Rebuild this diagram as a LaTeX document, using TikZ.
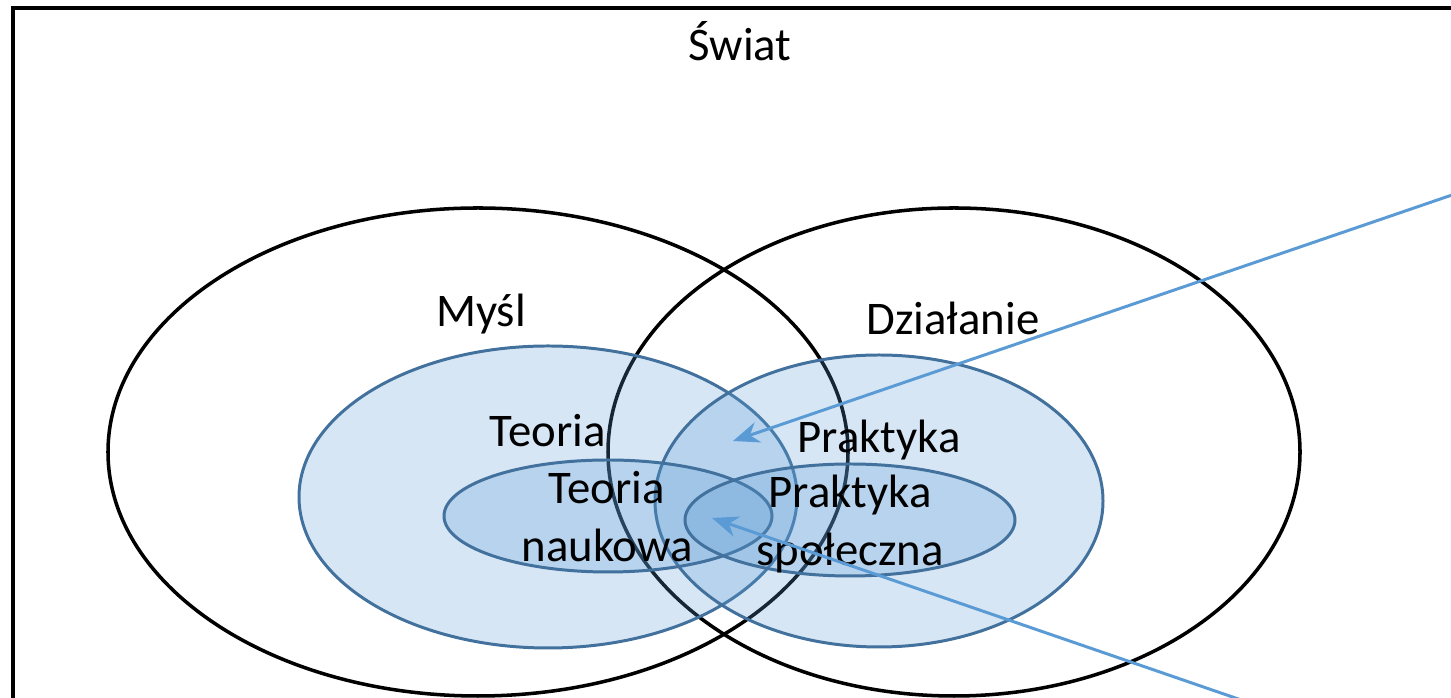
\documentclass[tikz,border=0pt]{standalone}
\usepackage{fontspec}
\setmainfont{Carlito}
\usetikzlibrary{arrows.meta}
\definecolor{setblue}{HTML}{5B9BD5}
\definecolor{setedge}{HTML}{41719C}
\tikzset{>={Stealth[length=7.5pt,width=6pt]}}
\tikzset{
	% outer sets
	bigset/.style={draw=black,line width=1pt},
	% shaded subsets
	subset/.style={draw=setedge,line width=0.85pt,fill=setblue,fill opacity=0.25},
	% arrows into the overlaps
	pointer/.style={->,draw=setblue,line width=0.85pt},
	lbl/.style={font=\fontsize{13.3}{16.5}\selectfont,inner sep=0pt,align=center},
}

\begin{document}
\begin{tikzpicture}[x=0.01cm,y=-0.01cm]
\clip (0,0) rectangle (1451,698);
% the frame
\draw[line width=1pt] (13,8) rectangle (1480,720);
% the two big sets
\draw[bigset] (478,452) ellipse [x radius=370, y radius=244];
\draw[bigset] (954,452) ellipse [x radius=346, y radius=244];
% the subsets
\draw[subset] (548,497) ellipse [x radius=249, y radius=151];
\draw[subset] (879,501) ellipse [x radius=224, y radius=146];
\draw[subset] (608,516) ellipse [x radius=164, y radius=56];
\draw[subset] (850,520) ellipse [x radius=165, y radius=56];
% labels
\node[lbl,anchor=base] (world) at (740,61) {Świat};
\node[lbl,anchor=base] (thought) at (481,327) {Myśl};
\node[lbl,anchor=base] (action) at (953,335) {Działanie};
\node[lbl,anchor=base] (theory) at (548,447) {Teoria};
\node[lbl,anchor=base] (practice) at (879,453) {Praktyka};
\node[lbl] (science) at (607,517) {Teoria\\naukowa};
\node[lbl] (social) at (850,524) {Praktyka\\społeczna};
% the two pointers
\coordinate (thinkdo) at (733,441);
\coordinate (thinkdoend) at (1490,182);
\coordinate (scisoc) at (712,518);
\coordinate (scisocend) at (1250,703);
\draw[pointer] (thinkdoend) -- (thinkdo);
\draw[pointer] (scisocend) -- (scisoc);
\end{tikzpicture}
\end{document}
